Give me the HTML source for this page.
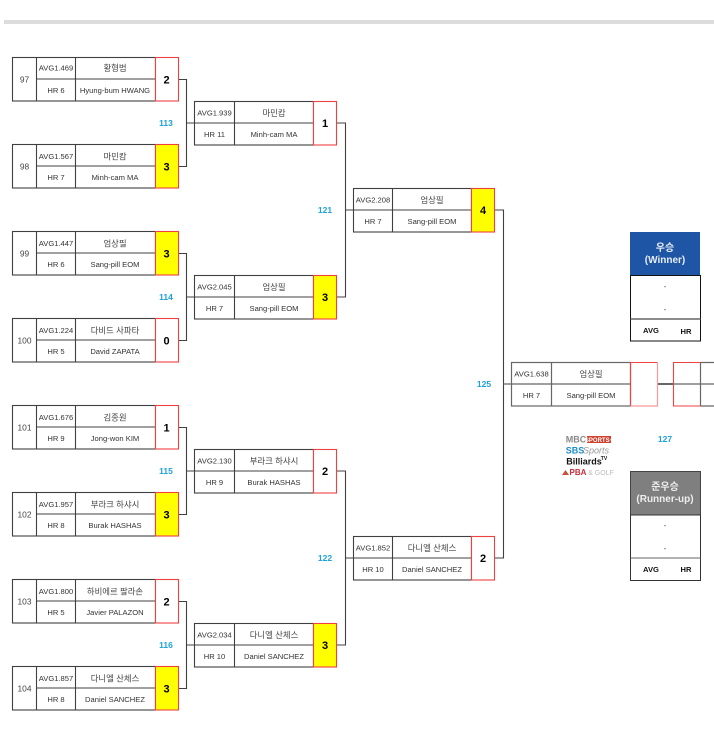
<!DOCTYPE html>
<html><head><meta charset="utf-8">
<style>
html,body{margin:0;padding:0;background:#fff;width:714px;height:751px;overflow:hidden}
svg{display:block}
text{font-family:"Liberation Sans","Noto Sans CJK KR",sans-serif;font-size:7.6px;fill:#333;text-anchor:middle}
.k{font-size:8.4px;fill:#444}
.s{font-size:11px;font-weight:bold;fill:#000}
.b{font-size:8.5px;font-weight:bold;fill:#1ba1dc}
.l{stroke:#404040;stroke-width:1.1;fill:none}
.box{stroke:#404040;stroke-width:1.1;fill:#fff}
.r{stroke:#f04040;stroke-width:1.1;fill:#fff}
.y{stroke:#f04040;stroke-width:1.1;fill:#ff0}
</style></head><body>
<svg width="714" height="751" viewBox="0 0 714 751" xmlns="http://www.w3.org/2000/svg">
<rect x="4" y="20" width="710" height="4" fill="#dcdcdc"/>

<defs>
<g id="r1"><rect class="box" x="12.5" y="0.5" width="143" height="43.5"/><path class="l" d="M36.5 .5V44M75.5 .5V44M36.5 22H155.5"/></g>
<g id="r2"><rect class="box" x="194.5" y="0.5" width="119" height="43.5"/><path class="l" d="M234.5 .5V44M194.5 22H313.5"/></g>
<g id="r3"><rect class="box" x="353.5" y="0.5" width="118" height="43.5"/><path class="l" d="M392.5 .5V44M353.5 22H471.5"/></g>
</defs>

<!-- connectors -->
<path class="l" d="M178 79.5H186.5V166.5H178M186.5 123H194.5M178 253.5H186.5V340.5H178M186.5 297H194.5M178 427.5H186.5V514.5H178M186.5 471H194.5M178 601.5H186.5V688.5H178M186.5 645H194.5"/>
<path class="l" d="M337 123H345.5V297H337M345.5 210H353.5M337 471H345.5V645H337M345.5 558H353.5"/>
<path class="l" d="M495 210H503.5V558H495M503.5 384H511.5"/>
<path d="M657 384H673" stroke="#333" stroke-width="1.5" fill="none"/>

<!-- round 1 -->
<use href="#r1" y="57"/><rect class="r" x="155.5" y="57.5" width="23" height="43.5"/>
<text x="24.5" y="82.5" class="k">97</text><text x="56" y="70.5">AVG1.469</text><text x="56" y="93">HR 6</text><text x="115" y="71" class="k">황형범</text><text x="115" y="93">Hyung-bum HWANG</text><text x="166.5" y="83.5" class="s">2</text>

<use href="#r1" y="144"/><rect class="y" x="155.5" y="144.5" width="23" height="43.5"/>
<text x="24.5" y="169.5" class="k">98</text><text x="56" y="159">AVG1.567</text><text x="56" y="180">HR 7</text><text x="115" y="159.5" class="k">마민캄</text><text x="115" y="180">Minh-cam MA</text><text x="166.5" y="170.5" class="s">3</text>

<use href="#r1" y="231"/><rect class="y" x="155.5" y="231.5" width="23" height="43.5"/>
<text x="24.5" y="256.5" class="k">99</text><text x="56" y="246">AVG1.447</text><text x="56" y="267">HR 6</text><text x="115" y="246.5" class="k">엄상필</text><text x="115" y="267">Sang-pill EOM</text><text x="166.5" y="257.5" class="s">3</text>

<use href="#r1" y="318"/><rect class="r" x="155.5" y="318.5" width="23" height="43.5"/>
<text x="24.5" y="343.5" class="k">100</text><text x="56" y="333">AVG1.224</text><text x="56" y="354">HR 5</text><text x="115" y="333.5" class="k">다비드 사파타</text><text x="115" y="354">David ZAPATA</text><text x="166.5" y="344.5" class="s">0</text>

<use href="#r1" y="405"/><rect class="r" x="155.5" y="405.5" width="23" height="43.5"/>
<text x="24.5" y="430.5" class="k">101</text><text x="56" y="420">AVG1.676</text><text x="56" y="441">HR 9</text><text x="115" y="420.5" class="k">김종원</text><text x="115" y="441">Jong-won KIM</text><text x="166.5" y="431.5" class="s">1</text>

<use href="#r1" y="492"/><rect class="y" x="155.5" y="492.5" width="23" height="43.5"/>
<text x="24.5" y="517.5" class="k">102</text><text x="56" y="507">AVG1.957</text><text x="56" y="528">HR 8</text><text x="115" y="507.5" class="k">부라크 하샤시</text><text x="115" y="528">Burak HASHAS</text><text x="166.5" y="518.5" class="s">3</text>

<use href="#r1" y="579"/><rect class="r" x="155.5" y="579.5" width="23" height="43.5"/>
<text x="24.5" y="604.5" class="k">103</text><text x="56" y="594">AVG1.800</text><text x="56" y="615">HR 5</text><text x="115" y="594.5" class="k">하비에르 팔라손</text><text x="115" y="615">Javier PALAZON</text><text x="166.5" y="605.5" class="s">2</text>

<use href="#r1" y="666"/><rect class="y" x="155.5" y="666.5" width="23" height="43.5"/>
<text x="24.5" y="691.5" class="k">104</text><text x="56" y="681">AVG1.857</text><text x="56" y="702">HR 8</text><text x="115" y="681.5" class="k">다니엘 산체스</text><text x="115" y="702">Daniel SANCHEZ</text><text x="166.5" y="692.5" class="s">3</text>

<!-- round 2 -->
<use href="#r2" y="101"/><rect class="r" x="313.5" y="101.5" width="23" height="43.5"/>
<text x="214.5" y="115.5">AVG1.939</text><text x="214.5" y="137">HR 11</text><text x="274" y="116" class="k">마민캄</text><text x="274" y="137">Minh-cam MA</text><text x="325" y="127" class="s">1</text>

<use href="#r2" y="275"/><rect class="y" x="313.5" y="275.5" width="23" height="43.5"/>
<text x="214.5" y="289.5">AVG2.045</text><text x="214.5" y="311">HR 7</text><text x="274" y="290" class="k">엄상필</text><text x="274" y="311">Sang-pill EOM</text><text x="325" y="301" class="s">3</text>

<use href="#r2" y="449"/><rect class="r" x="313.5" y="449.5" width="23" height="43.5"/>
<text x="214.5" y="463.5">AVG2.130</text><text x="214.5" y="485">HR 9</text><text x="274" y="464" class="k">부라크 하샤시</text><text x="274" y="485">Burak HASHAS</text><text x="325" y="475" class="s">2</text>

<use href="#r2" y="623"/><rect class="y" x="313.5" y="623.5" width="23" height="43.5"/>
<text x="214.5" y="637.5">AVG2.034</text><text x="214.5" y="659">HR 10</text><text x="274" y="638" class="k">다니엘 산체스</text><text x="274" y="659">Daniel SANCHEZ</text><text x="325" y="649" class="s">3</text>

<!-- round 3 -->
<use href="#r3" y="188"/><rect class="y" x="471.5" y="188.5" width="23" height="43.5"/>
<text x="373" y="202.5">AVG2.208</text><text x="373" y="224">HR 7</text><text x="432" y="203" class="k">엄상필</text><text x="432" y="224">Sang-pill EOM</text><text x="483" y="214" class="s">4</text>

<use href="#r3" y="536"/><rect class="r" x="471.5" y="536.5" width="23" height="43.5"/>
<text x="373" y="550.5">AVG1.852</text><text x="373" y="572">HR 10</text><text x="432" y="551" class="k">다니엘 산체스</text><text x="432" y="572">Daniel SANCHEZ</text><text x="483" y="562" class="s">2</text>

<!-- final -->
<rect x="511.5" y="362.5" width="119" height="43.5" fill="#fff" stroke="#666" stroke-width="1.2"/>
<path d="M551.5 362.5V406M503.5 384H630.5M673 384H714M700.5 362.5V406M700.5 362.5H714M700.5 406H714" fill="none" stroke="#666" stroke-width="1.2"/>
<path d="M630.5 406V362.5H657.5" fill="none" stroke="#f04040" stroke-width="1.1"/>
<path d="M657.5 362.5V406H630.5" fill="none" stroke="#f79a9a" stroke-width="1.2"/>
<path d="M700.5 406H673.5V362.5H700.5" fill="none" stroke="#f04040" stroke-width="1.1"/>
<text x="531.5" y="376.5">AVG1.638</text><text x="531.5" y="398">HR 7</text><text x="591" y="377" class="k">엄상필</text><text x="591" y="398">Sang-pill EOM</text>

<!-- match numbers -->
<text x="166" y="126" class="b">113</text><text x="166" y="300" class="b">114</text><text x="166" y="474" class="b">115</text><text x="166" y="648" class="b">116</text>
<text x="325" y="213" class="b">121</text><text x="325" y="561" class="b">122</text><text x="484" y="387" class="b">125</text><text x="665" y="442" class="b">127</text>

<!-- winner -->
<rect x="630" y="232" width="70" height="43" fill="#1f55a5"/>
<text x="665" y="251" style="font-size:10px;font-weight:bold;fill:#e8eef8">우승</text>
<text x="665" y="263" style="font-size:10px;font-weight:bold;fill:#e8eef8">(Winner)</text>
<rect x="630.5" y="275.5" width="70" height="65.5" fill="#fff" stroke="#111"/>
<path d="M630.5 319H700.5" stroke="#666" stroke-width="1.5"/>
<text x="665" y="289">-</text><text x="665" y="312">-</text>
<text x="651" y="333" style="font-weight:bold;fill:#111">AVG</text><text x="686" y="334" style="font-weight:bold;fill:#111">HR</text>

<!-- runner-up -->
<rect x="630.5" y="471.5" width="70" height="43.5" fill="#7f7f7f" stroke="#444"/>
<text x="665" y="490" style="font-size:10px;font-weight:bold;fill:#eee">준우승</text>
<text x="665" y="502" style="font-size:10px;font-weight:bold;fill:#eee">(Runner-up)</text>
<rect x="630.5" y="515" width="70" height="65.5" fill="#fff" stroke="#333"/>
<path d="M630.5 558H700.5" stroke="#666" stroke-width="1"/>
<text x="665" y="528">-</text><text x="665" y="551">-</text>
<text x="651" y="572" style="font-weight:bold;fill:#111">AVG</text><text x="686" y="572" style="font-weight:bold;fill:#111">HR</text>

<!-- logos -->
<text x="576" y="442.5" style="font-size:9px;font-weight:bold;fill:#888">MBC</text>
<rect x="587" y="436" width="24" height="7" fill="#d2402e"/>
<text x="599" y="442" style="font-size:6px;font-weight:bold;fill:#fff">SPORTS+</text>
<text x="575" y="453.5" style="font-size:9px;font-weight:bold;fill:#1b8cc8">SBS</text>
<text x="596" y="453.5" style="font-size:9px;font-style:italic;fill:#999">Sports</text>
<text x="584" y="464.5" style="font-size:9px;font-weight:bold;fill:#111">Billiards</text>
<text x="604" y="460" style="font-size:5px;font-weight:bold;fill:#111">TV</text>
<path d="M562 475l3.500-5 3.500 5z" fill="#c9503a"/>
<text x="578" y="475" style="font-size:8px;font-weight:bold;fill:#c62b3a">PBA</text>
<text x="601" y="475" style="font-size:7px;fill:#bbb">&amp; GOLF</text>
</svg>
</body></html>
